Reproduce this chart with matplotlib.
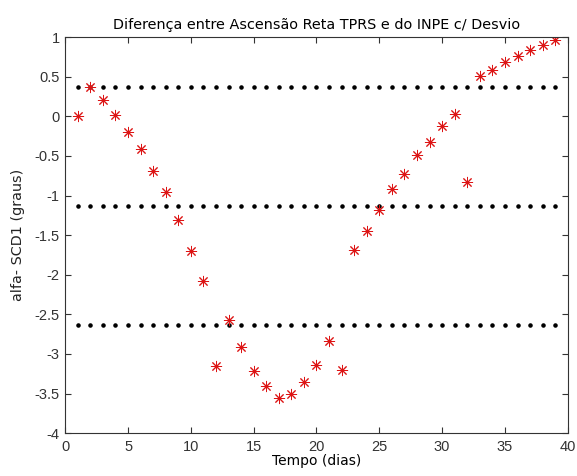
import numpy as np
import matplotlib.pyplot as plt

plt.rcParams['font.family'] = ['Liberation Sans', 'DejaVu Sans']

# dias de observacao
dias = np.arange(1, 40)
# diferenca de ascensao reta (graus)
alfa = [0.00, 0.37, 0.20, 0.02, -0.20, -0.41, -0.69, -0.96, -1.31, -1.70,
        -2.08, -3.15, -2.57, -2.91, -3.22, -3.41, -3.56, -3.51, -3.35, -3.14,
        -2.84, -3.20, -1.69, -1.45, -1.18, -0.92, -0.73, -0.49, -0.32, -0.12,
        0.03, -0.83, 0.51, 0.59, 0.68, 0.76, 0.84, 0.90, 0.96]
# media e media +/- desvio
media = -1.13
desvio = 1.50
niveis = [media + desvio, media, media - desvio]

fig = plt.figure(figsize=(5.77, 4.76), dpi=100)
ax = fig.add_axes([0.113, 0.090, 0.871, 0.832])

for nv in niveis:
    ax.plot(dias, np.full(len(dias), nv), linestyle='none', marker='.',
            color='black', markersize=4.5)

ax.plot(dias, alfa, linestyle='none', marker=(8, 2, 0), color='#dd1414',
        markersize=8, markeredgewidth=0.7)

ax.set_xlim(0, 40)
ax.set_ylim(-4, 1)
ax.set_xticks(np.arange(0, 41, 5))
ax.set_yticks(np.arange(-4, 1.01, 0.5))
ax.set_yticklabels(['-4', '-3.5', '-3', '-2.5', '-2', '-1.5', '-1', '-0.5', '0', '0.5', '1'])
ax.tick_params(direction='in', top=True, right=True, labelsize=10.5, length=4,
               width=0.8, colors='#333333')
ax.tick_params(axis='x', pad=5)
ax.tick_params(axis='y', pad=4)
for s in ax.spines.values():
    s.set_linewidth(0.8)
    s.set_color('#333333')

ax.set_title('Diferença entre Ascensão Reta TPRS e do INPE c/ Desvio',
             family='DejaVu Sans', fontsize=10.4, pad=6)
ax.set_xlabel('Tempo (dias)', family='DejaVu Sans', fontsize=10, labelpad=0)
ax.set_ylabel('alfa- SCD1 (graus)', family='DejaVu Sans', fontsize=10.4,
              labelpad=7, color='#222222')

fig.savefig('out.png', dpi=100)
